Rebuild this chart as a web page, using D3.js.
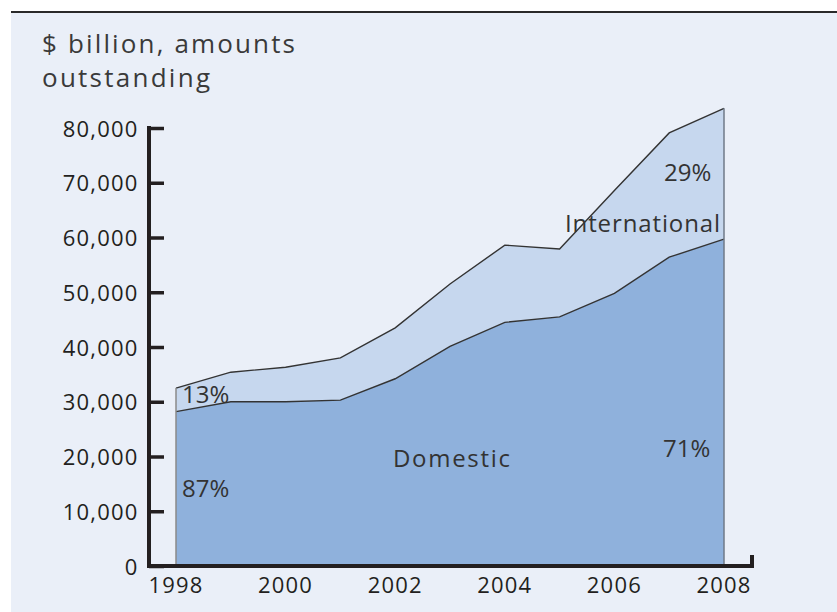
<!DOCTYPE html>
<html>
<head>
<meta charset="utf-8">
<script src="https://cdn.jsdelivr.net/npm/d3@7"></script>
<style>
  html, body { margin: 0; padding: 0; background: #ffffff; }
  svg { display: block; }
</style>
</head>
<body>
<svg id="chart" width="837" height="612"></svg>
<script>
// Debt securities outstanding, $ billion
const years = [1998, 1999, 2000, 2001, 2002, 2003, 2004, 2005, 2006, 2007, 2008];
const domestic = [28200, 30000, 30000, 30300, 34200, 40100, 44500, 45500, 49800, 56400, 59700];
const total = [32500, 35400, 36300, 38000, 43500, 51500, 58600, 57900, 68600, 79100, 83600];
const international = total.map((t, i) => t - domestic[i]);
const yTicks = [0, 10000, 20000, 30000, 40000, 50000, 60000, 70000, 80000];
const xTicks = [1998, 2000, 2002, 2004, 2006, 2008];

const svg = d3.select("#chart");
const W = 837, H = 612;

// panel background and top rule
svg.append("rect").attr("x", 11).attr("y", 12).attr("width", W - 11).attr("height", H - 12)
  .attr("fill", "#eaeff8");
svg.append("line").attr("x1", 11).attr("x2", W).attr("y1", 12).attr("y2", 12)
  .attr("stroke", "#2a2a2a").attr("stroke-width", 2);

const x = d3.scaleLinear().domain([1998, 2008]).range([176, 724]);
const y = d3.scaleLinear().domain([0, 80000]).range([566, 128]);

const rows = years.map((yr, i) => ({ year: yr, domestic: domestic[i], international: international[i] }));
const stack = d3.stack().keys(["domestic", "international"])(rows);

const area = d3.area()
  .x(d => x(d.data.year))
  .y0(d => y(d[0]))
  .y1(d => y(d[1]));

const fills = { domestic: "#8fb1dc", international: "#c6d7ee" };

svg.append("g").selectAll("path")
  .data(stack)
  .join("path")
  .attr("d", area)
  .attr("fill", d => fills[d.key])
  .attr("stroke", "none");

// outlines along series tops
const topLine = d3.line().x(d => x(d.data.year)).y(d => y(d[1]));
svg.append("g").selectAll("path")
  .data(stack)
  .join("path")
  .attr("d", topLine)
  .attr("fill", "none")
  .attr("stroke", "#333333")
  .attr("stroke-width", 1.4);

// side edges of the stacked areas
svg.append("line")
  .attr("x1", x(1998)).attr("x2", x(1998))
  .attr("y1", y(0)).attr("y2", y(total[0]))
  .attr("stroke", "#8a8a8a").attr("stroke-width", 1.5);
svg.append("line")
  .attr("x1", x(2008)).attr("x2", x(2008))
  .attr("y1", y(0)).attr("y2", y(total[total.length - 1]))
  .attr("stroke", "#6f7a88").attr("stroke-width", 1.5);

// y axis
const yAxis = d3.axisRight(y).tickValues(yTicks).tickSize(15).tickFormat("");
const gy = svg.append("g").attr("transform", "translate(149,0)").call(yAxis);
gy.select(".domain").remove();
gy.selectAll(".tick line").attr("stroke", "#231f20").attr("stroke-width", 3.5);
svg.append("line").attr("x1", 149).attr("x2", 149).attr("y1", 126).attr("y2", 568)
  .attr("stroke", "#231f20").attr("stroke-width", 4);

svg.append("g").selectAll("text")
  .data(yTicks)
  .join("text")
  .attr("x", 138.5)
  .attr("y", d => y(d) + 8.5)
  .attr("text-anchor", "end")
  .attr("font-family", "'Open Sans', sans-serif")
  .attr("font-size", 22)
  .attr("letter-spacing", 1.2)
  .attr("fill", "#231f20")
  .text(d => d3.format(",")(d));

// x axis with end hook
svg.append("line").attr("x1", 147).attr("x2", 754).attr("y1", 566).attr("y2", 566)
  .attr("stroke", "#231f20").attr("stroke-width", 4);
svg.append("line").attr("x1", 752).attr("x2", 752).attr("y1", 555).attr("y2", 568)
  .attr("stroke", "#231f20").attr("stroke-width", 4);

svg.append("g").selectAll("text")
  .data(xTicks)
  .join("text")
  .attr("x", d => x(d))
  .attr("y", 593)
  .attr("text-anchor", "middle")
  .attr("font-family", "'Open Sans', sans-serif")
  .attr("font-size", 22)
  .attr("letter-spacing", 1.2)
  .attr("fill", "#231f20")
  .text(d => d);

// title
const title = svg.append("text")
  .attr("font-family", "'Open Sans', sans-serif")
  .attr("font-size", 26)
  .attr("fill", "#3a3a3a");
title.append("tspan").attr("x", 42).attr("y", 53)
  .attr("textLength", 253).attr("lengthAdjust", "spacing").text("$ billion, amounts");
title.append("tspan").attr("x", 42).attr("y", 87)
  .attr("textLength", 168).attr("lengthAdjust", "spacing").text("outstanding");

// in-chart labels (word labels are stretched to their span, shares keep natural width)
const labels = [
  { text: "13%", x: 182, y: 403, len: null },
  { text: "87%", x: 182, y: 497, len: null },
  { text: "Domestic", x: 393, y: 467, len: 117 },
  { text: "71%", x: 663, y: 457, len: null },
  { text: "29%", x: 664, y: 181, len: null },
  { text: "International", x: 565, y: 232, len: 155 }
];
const lbl = svg.append("g").selectAll("text")
  .data(labels)
  .join("text")
  .attr("x", d => d.x)
  .attr("y", d => d.y)
  .attr("font-family", "'Open Sans', sans-serif")
  .attr("font-size", 24)
  .attr("fill", "#333333")
  .text(d => d.text);
lbl.filter(d => d.len)
  .attr("textLength", d => d.len)
  .attr("lengthAdjust", "spacing");
</script>
</body>
</html>
